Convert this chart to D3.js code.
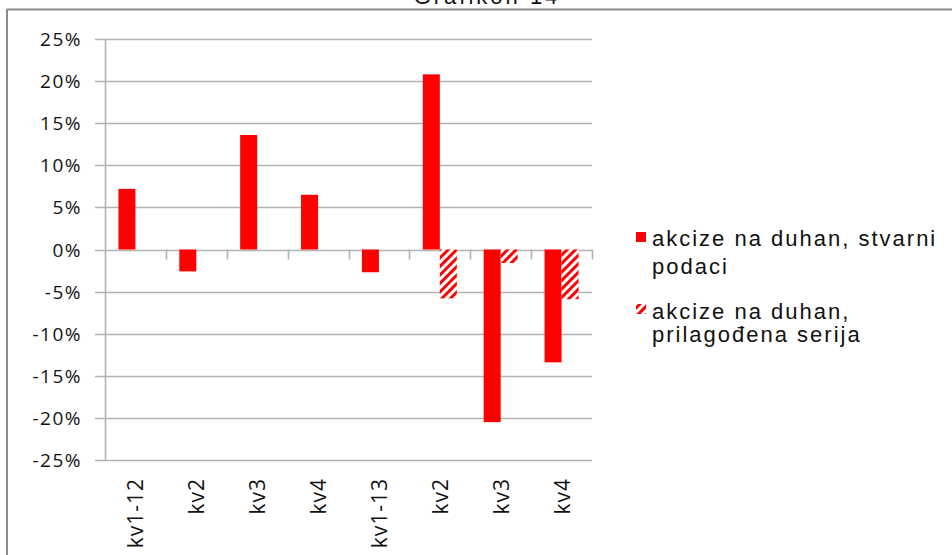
<!DOCTYPE html>
<meta charset="utf-8">
<style>
body { margin: 0; background: #fff; }
text { fill: #111; }
.ylab { font-family: 'Open Sans', sans-serif; font-size: 19px; letter-spacing: 1.5px; }
.xlab { font-family: 'Open Sans', sans-serif; font-size: 21px; letter-spacing: 1px; }
.leg { font-family: 'Liberation Sans', Arial, sans-serif; font-size: 22px; letter-spacing: 2px; }
.title { font-family: 'Liberation Sans', Arial, sans-serif; font-size: 22px; letter-spacing: 3px; }
</style>
<body>
<script src="https://d3js.org/d3.v7.min.js"></script>
<script>

var categories = ["kv1-12", "kv2", "kv3", "kv4", "kv1-13", "kv2", "kv3", "kv4"];
var actual = [7.2, -2.6, 13.6, 6.5, -2.7, 20.8, -20.5, -13.4];   // akcize na duhan, stvarni podaci
var adjusted = [null, null, null, null, null, -5.8, -1.6, -5.9];  // prilagođena serija
var yTicks = [-25, -20, -15, -10, -5, 0, 5, 10, 15, 20, 25];
var legendLabels = [["akcize na duhan, stvarni", "podaci"], ["akcize na duhan,", "prilagođena serija"]];

var width = 952, height = 555;
var red = "#ff0000", grid = "#b3b3b3";

var svg = d3.select("body").append("svg")
	.attr("width", width)
	.attr("height", height);

var defs = svg.append("defs");
var pat = defs.append("pattern")
	.attr("id", "hatch")
	.attr("patternUnits", "userSpaceOnUse")
	.attr("width", 6)
	.attr("height", 6)
	.attr("patternTransform", "rotate(45)");
pat.append("rect").attr("width", 6).attr("height", 6).attr("fill", "#fff");
pat.append("rect").attr("width", 3).attr("height", 6).attr("fill", red);

// frame
svg.append("line").attr("x1", 7).attr("x2", width).attr("y1", 9.5).attr("y2", 9.5)
	.style("stroke", "#8c8c8c").style("stroke-width", 2);
svg.append("line").attr("x1", 7).attr("x2", 7).attr("y1", 9).attr("y2", height)
	.style("stroke", "#8c8c8c").style("stroke-width", 2);

// title (cut off at the top, as in the source)
svg.append("text").attr("class", "title")
	.attr("x", 487).attr("y", 4)
	.attr("text-anchor", "middle")
	.text("Grafikon 14");

var x = d3.scaleBand()
	.domain(d3.range(categories.length))
	.range([105, 592])
	.paddingInner(0);

var y = d3.scaleLinear()
	.domain([-25, 25])
	.range([460, 39]);

var barW = 17;

// horizontal gridlines + y ticks
svg.append("g").selectAll("line")
	.data(yTicks)
	.enter().append("line")
		.attr("x1", 95)
		.attr("x2", 592)
		.attr("y1", function(d) { return Math.round(y(d)) + 0.5; })
		.attr("y2", function(d) { return Math.round(y(d)) + 0.5; })
		.style("stroke", grid)
		.style("stroke-width", 1.6);

// y axis line
svg.append("line")
	.attr("x1", 105.5).attr("x2", 105.5)
	.attr("y1", y(25)).attr("y2", y(-25))
	.style("stroke", grid).style("stroke-width", 1.6);

// y labels
svg.append("g").selectAll("text")
	.data(yTicks)
	.enter().append("text")
		.attr("class", "ylab")
		.attr("x", 82)
		.attr("y", function(d) { return y(d) + 7; })
		.attr("text-anchor", "end")
		.text(function(d) { return d + "%"; });

// category ticks on the zero line
svg.append("g").selectAll("line")
	.data(d3.range(1, categories.length + 1))
	.enter().append("line")
		.attr("x1", function(i) { return Math.round(x.range()[0] + x.bandwidth() * i) + 0.5; })
		.attr("x2", function(i) { return Math.round(x.range()[0] + x.bandwidth() * i) + 0.5; })
		.attr("y1", y(0))
		.attr("y2", y(0) + 10)
		.style("stroke", grid)
		.style("stroke-width", 1.6);

// actual bars
svg.append("g").selectAll("rect")
	.data(actual)
	.enter().append("rect")
		.attr("x", function(d, i) { return x(i) + x.bandwidth() / 2 - barW; })
		.attr("width", barW)
		.attr("y", function(d) { return y(Math.max(0, d)); })
		.attr("height", function(d) { return Math.abs(y(d) - y(0)); })
		.attr("fill", red);

// adjusted (hatched) bars
svg.append("g").selectAll("rect")
	.data(adjusted.map(function(d, i) { return {v: d, i: i}; }).filter(function(d) { return d.v !== null; }))
	.enter().append("rect")
		.attr("x", function(d) { return x(d.i) + x.bandwidth() / 2; })
		.attr("width", barW)
		.attr("y", function(d) { return y(Math.max(0, d.v)); })
		.attr("height", function(d) { return Math.abs(y(d.v) - y(0)); })
		.attr("fill", "url(#hatch)");

// x labels, rotated
svg.append("g").selectAll("text")
	.data(categories)
	.enter().append("text")
		.attr("class", "xlab")
		.attr("transform", function(d, i) {
			return "translate(" + (x(i) + x.bandwidth() / 2 + 8) + ",478) rotate(-90)";
		})
		.attr("text-anchor", "end")
		.text(function(d) { return d; });

// legend
var legY = [232, 304];
var lineY = [[246, 274], [319, 342]];
var fills = [red, "url(#hatch)"];

for (var i = 0; i < legendLabels.length; i++) {
	svg.append("rect")
		.attr("x", 636).attr("y", legY[i])
		.attr("width", 10).attr("height", 10)
		.attr("fill", fills[i]);
	for (var j = 0; j < legendLabels[i].length; j++) {
		svg.append("text")
			.attr("class", "leg")
			.attr("x", 652)
			.attr("y", lineY[i][j])
			.text(legendLabels[i][j]);
	}
}

</script>
</body>
</html>
